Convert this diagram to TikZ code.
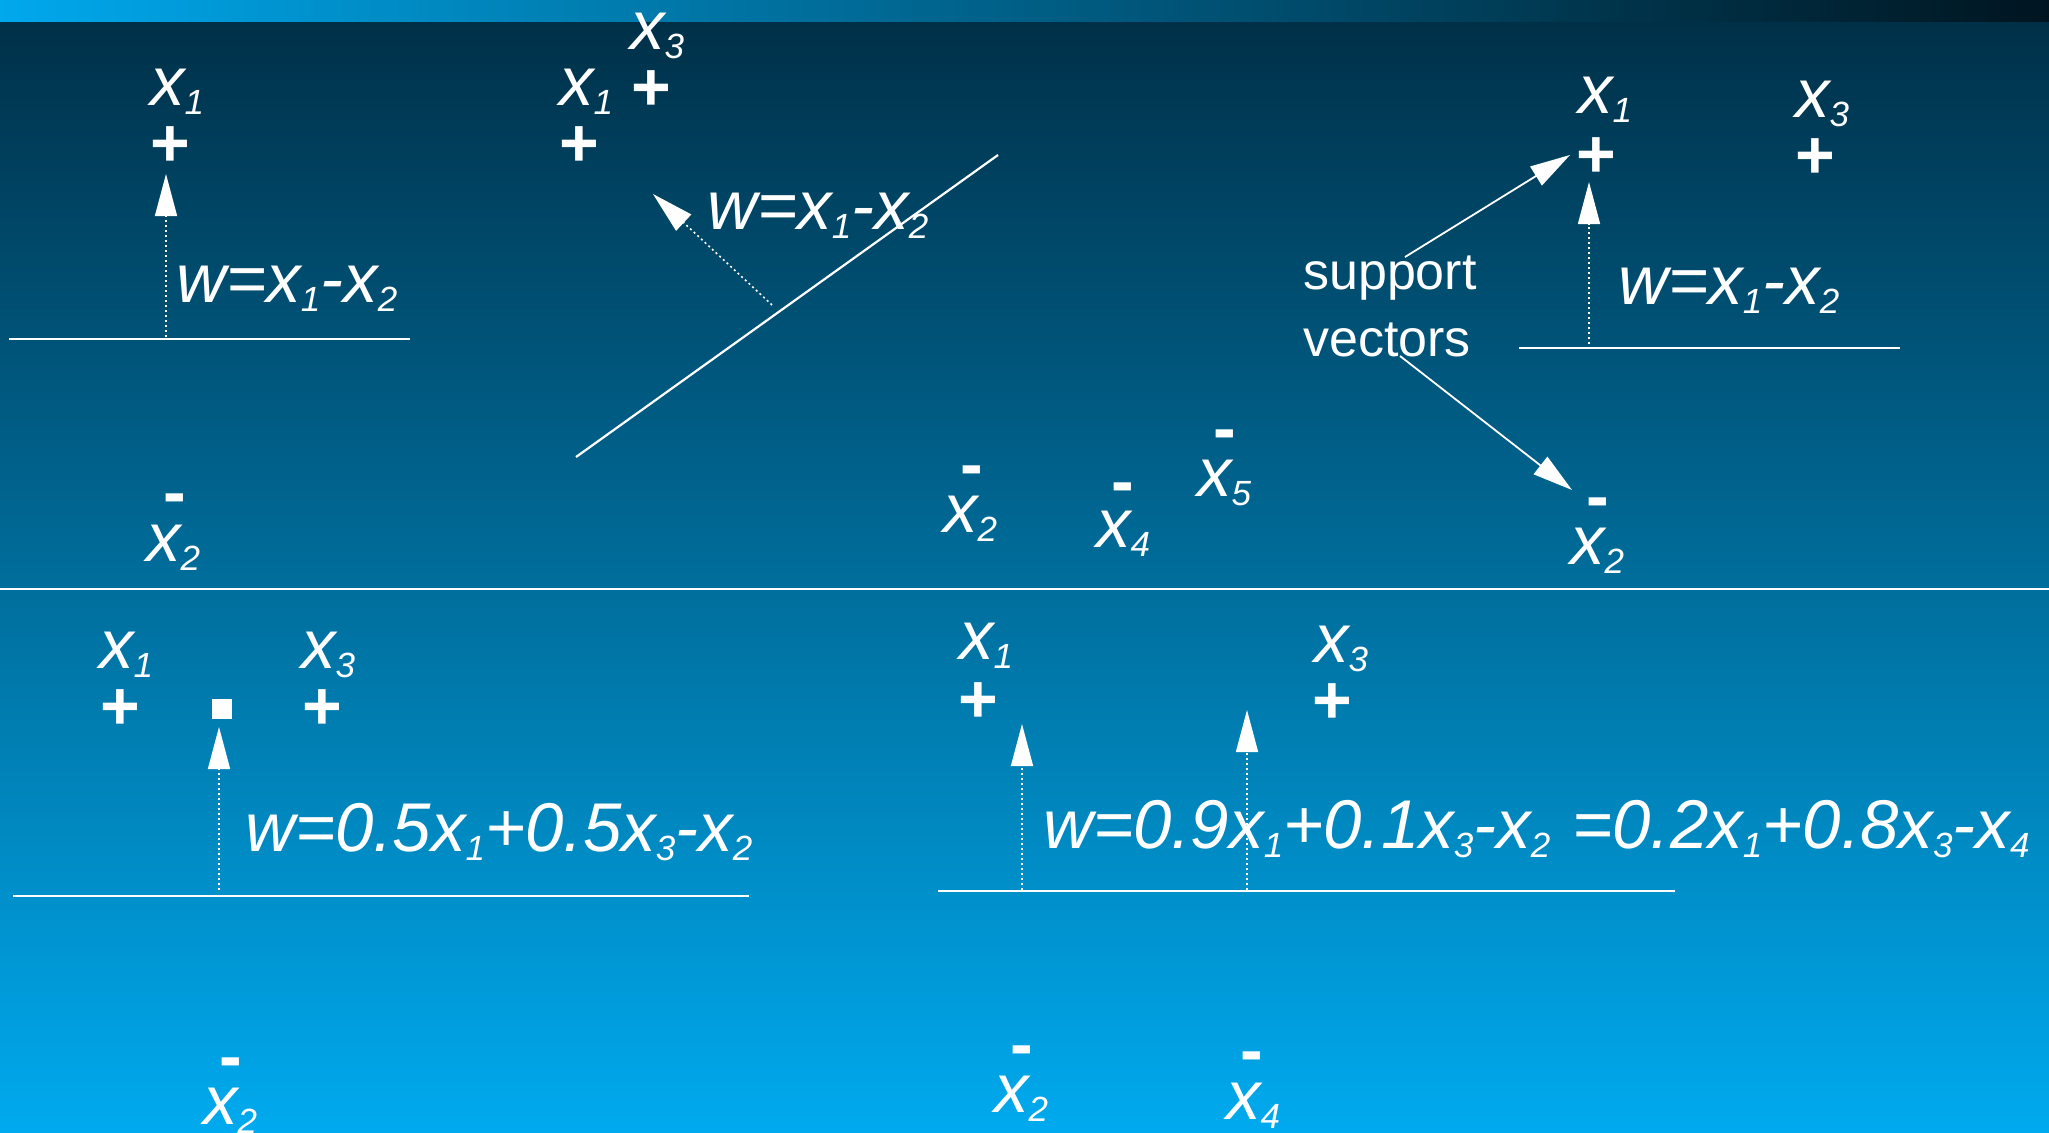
\documentclass[tikz,border=0pt]{standalone}
\usepackage{fontspec}
\setmainfont{Liberation Sans}
\usetikzlibrary{arrows.meta}
\definecolor{topc}{HTML}{003048}
\definecolor{botc}{HTML}{00AAEE}
\definecolor{barl}{HTML}{00A8EC}
\definecolor{barr}{HTML}{001520}
\newcommand\vx[1]{x\raisebox{-9pt}{\fontsize{35}{35}\selectfont #1}}
\begin{document}
\begin{tikzpicture}[x=1pt,y=-1pt,
  lab/.style={inner sep=0pt, anchor=base west, text=white, font=\fontsize{69}{80}\selectfont\itshape},
  sgn/.style={inner sep=0pt, anchor=base, text=white, font=\fontsize{68}{80}\selectfont\bfseries},
  txt/.style={inner sep=0pt, anchor=base west, text=white, font=\fontsize{52}{60}\selectfont},
  plane/.style={draw=white, line width=2.2pt},
  dotline/.style={draw=white, line width=1.6pt, dash pattern=on 2pt off 3pt, -{Triangle[length=42pt,width=22pt,fill=white]}},
  svarrow/.style={draw=white, line width=1.8pt, -{Triangle[length=40pt,width=22pt,fill=white]}}]
\useasboundingbox (0,0) rectangle (2049,1132);
\shade[top color=topc, bottom color=botc] (0,22) rectangle (2049,1132);
\shade[left color=barl, right color=barr] (0,0) rectangle (2049,22);
\coordinate (d1) at (0,589); \coordinate (d2) at (2049,589);
\draw[draw=white, line width=2pt] (d1) -- (d2);

% Panel 1
\node[lab] (p1x1) at (150,105) {\vx{1}};
\node[sgn] (p1p1) at (170,166) {+};
\coordinate (p1a) at (166,337); \coordinate (p1t) at (166,174);
\draw[dotline] (p1a) -- (p1t);
\node[lab] (p1w) at (176,302) {w=\vx{1}-\vx{2}};
\coordinate (p1h1) at (9,339); \coordinate (p1h2) at (410,339);
\draw[plane] (p1h1) -- (p1h2);
\node[sgn] (p1m) at (175,515) {-};
\node[lab] (p1x2) at (146,561) {\vx{2}};

% Panel 2
\node[lab] (p2x3) at (630,50) {\vx{3}};
\node[lab] (p2x1) at (559,105) {\vx{1}};
\node[sgn] (p2p3) at (651,110) {+};
\node[sgn] (p2p1) at (579,166) {+};
\coordinate (p2h1) at (576,457); \coordinate (p2h2) at (998,155);
\draw[plane] (p2h1) -- (p2h2);
\coordinate (p2a) at (772,305); \coordinate (p2t) at (653,194);
\draw[dotline] (p2a) -- (p2t);
\node[lab] (p2w) at (707,229) {w=\vx{1}-\vx{2}};
\node[sgn] (p2m2) at (972,487) {-};
\node[lab] (p2x2) at (943,532) {\vx{2}};
\node[sgn] (p2m4) at (1123,504) {-};
\node[lab] (p2x4) at (1096,547) {\vx{4}};
\node[sgn] (p2m5) at (1225,451) {-};
\node[lab] (p2x5) at (1197,496) {\vx{5}};

% Panel 3
\node[lab] (p3x1) at (1578,113) {\vx{1}};
\node[sgn] (p3p1) at (1596,177) {+};
\node[lab] (p3x3) at (1795,117) {\vx{3}};
\node[sgn] (p3p3) at (1815,178) {+};
\coordinate (p3a) at (1589,344); \coordinate (p3t) at (1589,182);
\draw[dotline] (p3a) -- (p3t);
\coordinate (p3h1) at (1519,348); \coordinate (p3h2) at (1900,348);
\draw[plane] (p3h1) -- (p3h2);
\node[lab] (p3w) at (1618,304) {w=\vx{1}-\vx{2}};
\node[txt] (sup) at (1303,289) {support};
\node[txt] (vec) at (1303,356) {vectors};
\coordinate (s1a) at (1405,257); \coordinate (s1t) at (1570,155);
\draw[svarrow] (s1a) -- (s1t);
\coordinate (s2a) at (1400,356); \coordinate (s2t) at (1572,490);
\draw[svarrow] (s2a) -- (s2t);
\node[sgn] (p3m) at (1598,519) {-};
\node[lab] (p3x2) at (1570,564) {\vx{2}};

% Panel 4
\node[lab] (p4x1) at (99,668) {\vx{1}};
\node[sgn] (p4p1) at (120,729) {+};
\node[fill=white, minimum size=20pt, inner sep=0pt] (p4sq) at (222,709) {};
\node[lab] (p4x3) at (301,668) {\vx{3}};
\node[sgn] (p4p3) at (322,729) {+};
\coordinate (p4a) at (219,890); \coordinate (p4t) at (219,727);
\draw[dotline] (p4a) -- (p4t);
\coordinate (p4h1) at (13,896); \coordinate (p4h2) at (749,896);
\draw[plane] (p4h1) -- (p4h2);
\node[lab] (p4w) at (245,851) {w=0.5\vx{1}+0.5\vx{3}-\vx{2}};
\node[sgn] (p4m) at (231,1079) {-};
\node[lab] (p4x2) at (203,1124) {\vx{2}};

% Panel 5
\node[lab] (p5x1) at (959,659) {\vx{1}};
\node[sgn] (p5p1) at (978,722) {+};
\node[lab] (p5x3) at (1314,662) {\vx{3}};
\node[sgn] (p5p3) at (1332,723) {+};
\coordinate (p5a) at (1022,890); \coordinate (p5t) at (1022,724);
\draw[dotline] (p5a) -- (p5t);
\coordinate (p5b) at (1247,890); \coordinate (p5u) at (1247,710);
\draw[dotline] (p5b) -- (p5u);
\coordinate (p5h1) at (938,891); \coordinate (p5h2) at (1675,891);
\draw[plane] (p5h1) -- (p5h2);
\node[lab] (p5w) at (1043,848) {w=0.9\vx{1}+0.1\vx{3}-\vx{2}};
\node[lab] (p5v) at (1572,848) {=0.2\vx{1}+0.8\vx{3}-\vx{4}};
\node[sgn] (p5m2) at (1022,1067) {-};
\node[lab] (p5x2) at (994,1112) {\vx{2}};
\node[sgn] (p5m4) at (1252,1073) {-};
\node[lab] (p5x4) at (1226,1119) {\vx{4}};
\end{tikzpicture}
\end{document}
